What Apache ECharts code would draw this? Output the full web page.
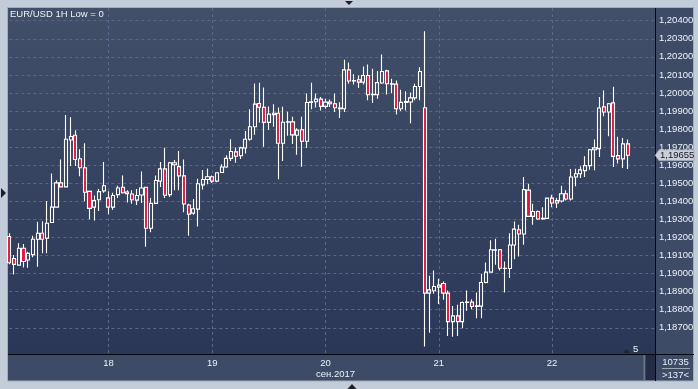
<!DOCTYPE html>
<html><head><meta charset="utf-8">
<script src="https://cdn.jsdelivr.net/npm/echarts@6/dist/echarts.min.js"></script>
<style>html,body{margin:0;padding:0;background:#c3cdd9;overflow:hidden}#c{width:698px;height:389px}</style>
</head><body><div id="c"></div>
<script>
// ---- data (EUR/USD, 1H candles) ----
const opens = [1.19205,1.19084,1.19047,1.19140,1.19075,1.19105,1.19190,1.19223,1.19196,1.19283,1.19368,1.19502,1.19480,1.19740,1.19766,1.19636,1.19586,1.19455,1.19368,1.19409,1.19458,1.19419,1.19368,1.19437,1.19478,1.19452,1.19441,1.19407,1.19435,1.19478,1.19251,1.19389,1.19512,1.19580,1.19437,1.19614,1.19592,1.19541,1.19380,1.19335,1.19357,1.19491,1.19521,1.19536,1.19512,1.19560,1.19590,1.19638,1.19674,1.19652,1.19695,1.19744,1.19813,1.19942,1.19921,1.19837,1.19880,1.19888,1.19722,1.19838,1.19840,1.19766,1.19796,1.19733,1.19947,1.19951,1.19966,1.19926,1.19949,1.19940,1.19916,1.19913,1.20128,1.20066,1.20073,1.20060,1.20097,1.19990,1.19990,1.20055,1.20122,1.20051,1.20049,1.19913,1.19948,1.19950,1.19973,1.20036,1.19918,1.18892,1.18905,1.18925,1.18945,1.18892,1.18734,1.18766,1.18734,1.18840,1.18842,1.18818,1.18820,1.18951,1.19008,1.19132,1.19132,1.19030,1.19028,1.19158,1.19243,1.19219,1.19462,1.19317,1.19344,1.19302,1.19306,1.19418,1.19391,1.19402,1.19442,1.19413,1.19535,1.19553,1.19570,1.19598,1.19686,1.19692,1.19923,1.19895,1.19945,1.19653,1.19635,1.19718];
const closes = [1.19060,1.19051,1.19140,1.19067,1.19112,1.19190,1.19223,1.19190,1.19279,1.19368,1.19502,1.19480,1.19744,1.19759,1.19632,1.19586,1.19450,1.19361,1.19404,1.19454,1.19486,1.19368,1.19432,1.19474,1.19448,1.19443,1.19409,1.19432,1.19474,1.19251,1.19389,1.19515,1.19580,1.19434,1.19614,1.19603,1.19541,1.19385,1.19329,1.19359,1.19497,1.19521,1.19536,1.19512,1.19558,1.19590,1.19638,1.19676,1.19650,1.19696,1.19744,1.19813,1.19938,1.19921,1.19837,1.19883,1.19888,1.19722,1.19838,1.19840,1.19768,1.19794,1.19733,1.19947,1.19951,1.19966,1.19926,1.19949,1.19940,1.19918,1.19913,1.20128,1.20066,1.20068,1.20060,1.20097,1.19990,1.19992,1.20057,1.20119,1.20051,1.20049,1.19913,1.19948,1.19953,1.19973,1.20036,1.20119,1.18892,1.18910,1.18929,1.18936,1.18892,1.18734,1.18766,1.18734,1.18840,1.18842,1.18818,1.18822,1.18951,1.19008,1.19132,1.19130,1.19030,1.19028,1.19158,1.19246,1.19219,1.19465,1.19317,1.19344,1.19302,1.19306,1.19418,1.19391,1.19404,1.19442,1.19413,1.19535,1.19553,1.19574,1.19598,1.19686,1.19696,1.19917,1.19895,1.19940,1.19649,1.19635,1.19718,1.19655];
const lows = [1.19052,1.18995,1.19043,1.19034,1.19032,1.19090,1.19038,1.19112,1.19112,1.19280,1.19365,1.19478,1.19478,1.19595,1.19595,1.19539,1.19400,1.19301,1.19294,1.19346,1.19447,1.19328,1.19354,1.19419,1.19443,1.19394,1.19387,1.19380,1.19391,1.19149,1.19229,1.19389,1.19480,1.19419,1.19424,1.19461,1.19461,1.19339,1.19210,1.19326,1.19261,1.19465,1.19495,1.19502,1.19506,1.19558,1.19586,1.19623,1.19613,1.19634,1.19665,1.19735,1.19768,1.19837,1.19702,1.19796,1.19813,1.19523,1.19624,1.19763,1.19717,1.19658,1.19591,1.19695,1.19910,1.19920,1.19903,1.19913,1.19922,1.19894,1.19861,1.19894,1.20051,1.20047,1.20027,1.20047,1.19959,1.19944,1.19968,1.20051,1.19992,1.19999,1.19881,1.19900,1.19903,1.19833,1.19959,1.19959,1.18597,1.18673,1.18888,1.18832,1.18855,1.18655,1.18651,1.18655,1.18697,1.18795,1.18803,1.18753,1.18753,1.18947,1.19008,1.19049,1.19017,1.18895,1.18975,1.19080,1.19095,1.19160,1.19313,1.19270,1.19298,1.19298,1.19304,1.19368,1.19363,1.19394,1.19405,1.19405,1.19483,1.19529,1.19535,1.19575,1.19572,1.19646,1.19871,1.19760,1.19590,1.19609,1.19585,1.19579];
const highs = [1.19223,1.19103,1.19168,1.19164,1.19121,1.19209,1.19287,1.19290,1.19402,1.19554,1.19517,1.19632,1.19878,1.19865,1.19794,1.19688,1.19722,1.19460,1.19432,1.19469,1.19618,1.19456,1.19447,1.19487,1.19543,1.19461,1.19461,1.19469,1.19565,1.19480,1.19419,1.19543,1.19618,1.19697,1.19618,1.19629,1.19679,1.19632,1.19387,1.19413,1.19525,1.19573,1.19582,1.19543,1.19560,1.19605,1.19655,1.19744,1.19698,1.19702,1.19790,1.19910,1.20052,1.20056,1.20030,1.19925,1.19938,1.19920,1.19923,1.19896,1.19868,1.19805,1.19868,1.19997,1.20056,1.19997,1.19977,1.19968,1.19964,1.19996,1.19949,1.20184,1.20169,1.20103,1.20097,1.20147,1.20158,1.20134,1.20121,1.20213,1.20128,1.20079,1.20069,1.20018,1.20009,1.20003,1.20051,1.20143,1.20341,1.18988,1.19017,1.18971,1.18956,1.18906,1.18821,1.18827,1.18845,1.18906,1.18858,1.18895,1.18999,1.19062,1.19184,1.19193,1.19136,1.19067,1.19224,1.19289,1.19270,1.19535,1.19498,1.19387,1.19350,1.19368,1.19420,1.19437,1.19418,1.19487,1.19461,1.19579,1.19581,1.19594,1.19649,1.19690,1.19742,1.19978,1.20014,1.19945,1.20034,1.19757,1.19751,1.19742];

// ---- axes / labels ----
const slotCount = 138;                 // hourly slots on the x axis (last few empty)
const dayTicks = [21, 43, 67, 91, 115];
const dayLabels = ['18', '19', '20', '21', '22'];
const monthLabel = 'сен.2017';
const monthTick = 67;
const yMin = 1.187, yMax = 1.204, yStep = 0.001;
const titleText = 'EUR/USD 1H Low = 0';
const volText = '10735', countText = '>137<', barsText = '5';

const categories = Array.from({length: slotCount}, (_, i) => 'h' + i);
const candleData = opens.map((o, i) => [o, closes[i], lows[i], highs[i]]);
const lastPrice = closes[closes.length - 1];
const fmt = v => v.toFixed(5).replace('.', ',');

const FONT = '"Liberation Sans", Arial, sans-serif';
const chart = echarts.init(document.getElementById('c'), null, {renderer: 'canvas'});

const gridL = 9.3, gridR = 42.1;
const option = {
  animation: false,
  backgroundColor: '#c3cdd9',
  title: {text: titleText, left: 10, top: 9, padding: 0,
    textStyle: {color: '#eef2f8', fontSize: 9.5, fontWeight: 'normal', fontFamily: FONT}},
  grid: [
    {left: gridL, right: gridR, top: 20.7, bottom: 61.2, outerBoundsMode: 'none', containLabel: false},
    {left: gridL, right: gridR, top: 8, bottom: 34.7, outerBoundsMode: 'none', containLabel: false}
  ],
  xAxis: [
    {type: 'category', gridIndex: 0, data: categories, boundaryGap: false,
      axisLine: {show: false}, axisTick: {show: false}, axisLabel: {show: false}, splitLine: {show: false}},
    {type: 'category', gridIndex: 1, data: categories, boundaryGap: false, position: 'bottom',
      axisLine: {show: false}, axisTick: {show: false},
      axisLabel: {
        show: true, margin: 4, color: '#eef2f8', fontSize: 9.5, fontFamily: FONT,
        interval: (idx) => dayTicks.indexOf(idx) >= 0,
        formatter: (val, idx) => {
          const k = dayTicks.indexOf(idx);
          if (k < 0) return '';
          return idx === monthTick ? dayLabels[k] + '\n{m|' + monthLabel + '}' : dayLabels[k];
        },
        lineHeight: 11,
        rich: {m: {color: '#eef2f8', fontSize: 9.5, fontFamily: FONT, padding: [0, 0, 0, 20], lineHeight: 11}}
      },
      splitLine: {show: true, interval: (idx) => dayTicks.indexOf(idx) >= 0,
        lineStyle: {color: '#58688a', type: [3, 3], width: 1}}}
  ],
  yAxis: [
    {type: 'value', gridIndex: 0, position: 'right', min: yMin, max: yMax, interval: yStep, scale: true,
      axisLine: {show: false}, axisTick: {show: false},
      axisLabel: {margin: 3, color: '#eef2f8', fontSize: 9.5, fontFamily: FONT, formatter: fmt,
        showMinLabel: true, showMaxLabel: true, hideOverlap: false},
      splitLine: {show: true, lineStyle: {color: '#58688a', type: [3, 3], width: 1}}},
    {type: 'value', gridIndex: 1, min: 0, max: 1, show: false}
  ],
  series: [{
    type: 'candlestick', xAxisIndex: 0, yAxisIndex: 0, data: candleData, clip: false,
    barWidth: 3.6,
    itemStyle: {color: 'rgba(0,0,0,0)', color0: '#e3153e', borderColor: '#ffffff', borderColor0: '#ffffff', borderWidth: 1.1}
  }],
  graphic: {elements: [
    {id: 'panel', type: 'rect', z: -100, shape: {x: 7.5, y: 7.5, width: 686, height: 373.5},
      style: {fill: '#3d4b67', stroke: '#a2aebf', lineWidth: 1}},
    {id: 'plotbg', type: 'rect', z: -99, shape: {x: 8, y: 8, width: 647.5, height: 346},
      style: {fill: new echarts.graphic.LinearGradient(0, 0, 0, 1, [
        {offset: 0, color: '#414f69'}, {offset: 1, color: '#2b3757'}])}},
    {id: 'vsep', type: 'line', z: 50, shape: {x1: 655.5, y1: 8, x2: 655.5, y2: 381}, style: {stroke: '#05070c', lineWidth: 1}},
    {id: 'hsep', type: 'line', z: 50, shape: {x1: 8, y1: 354.5, x2: 694, y2: 354.5}, style: {stroke: '#05070c', lineWidth: 1}},
    {id: 'thumbL', type: 'rect', z: 5, shape: {x: 643.5, y: 355, width: 2, height: 25}, style: {fill: '#6a768c'}},
    {id: 'thumb', type: 'rect', z: 5, shape: {x: 645.5, y: 355, width: 10, height: 25}, style: {fill: '#232c44'}},
    {id: 'vol', type: 'text', z: 50, style: {text: volText, x: 675.5, y: 362, fill: '#e8edf5', fontSize: 9.5, fontFamily: FONT,
      align: 'center', textAlign: 'center', verticalAlign: 'middle', textVerticalAlign: 'middle'}},
    {id: 'volsep', type: 'line', z: 50, shape: {x1: 662, y1: 368.5, x2: 690, y2: 368.5}, style: {stroke: '#9aa6b8', lineWidth: 1}},
    {id: 'cnt', type: 'text', z: 50, style: {text: countText, x: 675.5, y: 375, fill: '#e8edf5', fontSize: 9.5, fontFamily: FONT,
      align: 'center', textAlign: 'center', verticalAlign: 'middle', textVerticalAlign: 'middle'}},
    {id: 'bars', type: 'text', z: 50, style: {text: barsText, x: 633, y: 349.5, fill: '#eef2f8', fontSize: 9.5, fontFamily: FONT,
      align: 'left', textAlign: 'left', verticalAlign: 'middle', textVerticalAlign: 'middle'}},
    {id: 'barsTri', type: 'polygon', z: 50, shape: {points: [[623, 353], [630, 353], [626.5, 349]]}, style: {fill: '#1d2538'}},
    {id: 'triTop', type: 'polygon', z: 50, shape: {points: [[345, 1], [353, 1], [349, 5]]}, style: {fill: '#1b202b'}},
    {id: 'triLeft', type: 'polygon', z: 50, shape: {points: [[1, 188], [1, 198], [6, 193]]}, style: {fill: '#1b202b'}},
    {id: 'triBot', type: 'polygon', z: 50, shape: {points: [[347.5, 389], [356.5, 389], [352, 384]]}, style: {fill: '#1b202b'}}
  ]}
};
chart.setOption(option);

// current price tag on the right axis, positioned through the y scale
const ty = chart.convertToPixel({yAxisIndex: 0}, lastPrice);
chart.setOption({graphic: {elements: [
  {id: 'tag', type: 'polygon', z: 60, shape: {points: [[655, ty], [659, ty - 5.5], [694, ty - 5.5], [694, ty + 5.5], [659, ty + 5.5]]},
    style: {fill: '#c9ced8', stroke: '#8e97a8', lineWidth: 0.5}},
  {id: 'tagText', type: 'text', z: 61, style: {text: fmt(lastPrice), x: 660, y: ty + 0.5, fill: '#141820', fontSize: 9.5, fontFamily: FONT,
    align: 'left', textAlign: 'left', verticalAlign: 'middle', textVerticalAlign: 'middle'}}
]}});
</script>
</body></html>
